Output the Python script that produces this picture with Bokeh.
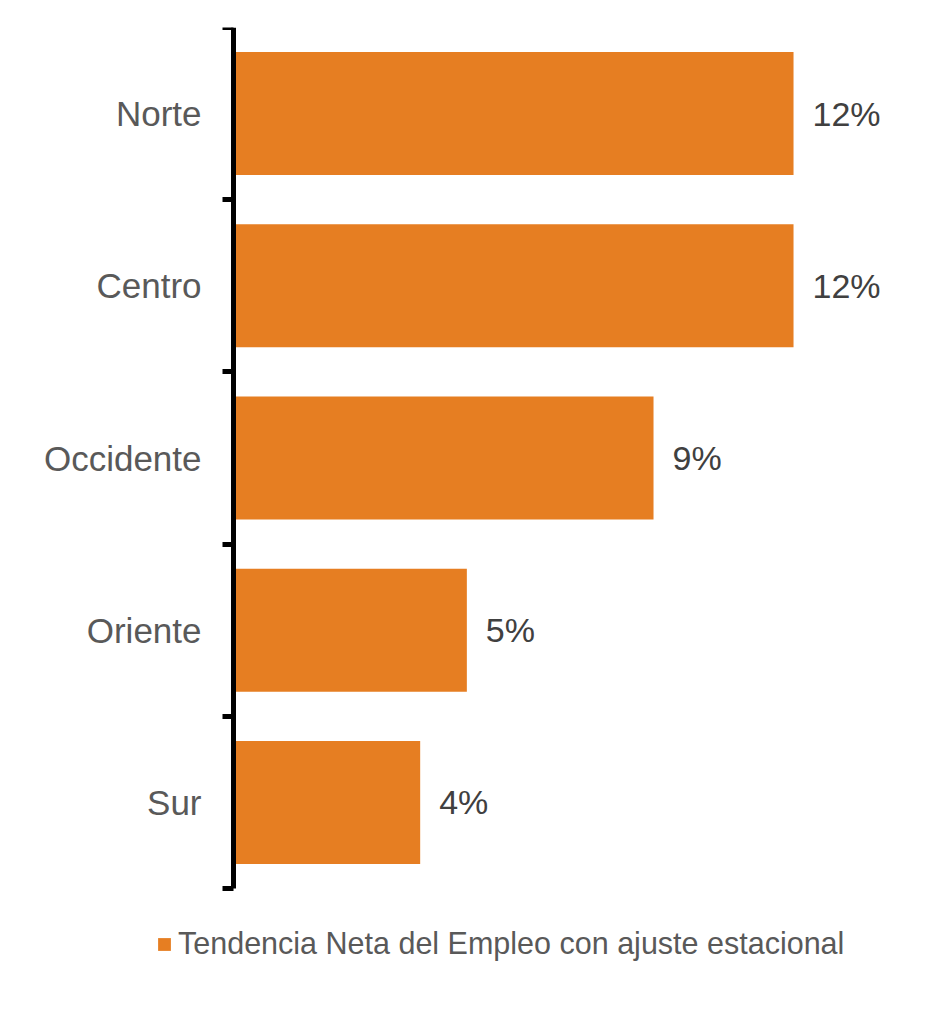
from bokeh.plotting import figure
from bokeh.models import ColumnDataSource, FixedTicker, Legend, LegendItem, Range1d
from bokeh.core.properties import value
from bokeh.embed import file_html
from bokeh.resources import INLINE

categories = ["Sur", "Oriente", "Occidente", "Centro", "Norte"]
values = [4, 5, 9, 12, 12]
value_labels = ["4%", "5%", "9%", "12%", "12%"]
legend_label = "Tendencia Neta del Empleo con ajuste estacional"

BAR = "#E67E22"
FONT = "Liberation Sans"

ypos = [i + 0.5 for i in range(len(categories))]
src = ColumnDataSource(dict(y=ypos, v=values, lab=value_labels, cat=categories))

n = len(categories)
p = figure(width=913, height=1000, output_backend="svg", toolbar_location=None,
           x_range=Range1d(-4.993, 14.228), y_range=Range1d(-0.6504, n),
           min_border_left=0, min_border_right=16, min_border_top=27,
           min_border_bottom=0)
p.outline_line_color = None
p.xgrid.visible = False
p.ygrid.visible = False
p.xaxis.visible = False

bars = p.hbar(y="y", right="v", left=0, height=0.714, source=src,
              fill_color=BAR, line_color=None)
p.text(x="v", y="y", text="lab", source=src, x_offset=19,
       text_align="left", text_baseline="middle",
       text_font=value(FONT), text_font_size="34px", text_color="#404040")

ax = p.yaxis[0]
ax.fixed_location = 0
ax.bounds = (0, n)
ax.ticker = FixedTicker(ticks=ypos, minor_ticks=list(range(n + 1)))
ax.major_label_overrides = {y: c for y, c in zip(ypos, categories)}
ax.major_tick_out = 0
ax.major_tick_in = 0
ax.minor_tick_out = 11
ax.minor_tick_in = 0
ax.minor_tick_line_width = 5
ax.minor_tick_line_color = "black"
ax.axis_line_width = 5
ax.axis_line_color = "black"
ax.major_label_standoff = 21
ax.major_label_text_font = FONT
ax.major_label_text_font_size = "35px"
ax.major_label_text_color = "#595959"

legend = Legend(items=[LegendItem(label=legend_label, renderers=[bars])],
                location=(156, 39), orientation="horizontal",
                glyph_width=16, glyph_height=16, label_standoff=6,
                label_text_font=FONT, label_text_font_size="30.5px",
                label_text_color="#595959", padding=0, margin=0,
                border_line_alpha=0, background_fill_alpha=0)
p.add_layout(legend, "center")

open("out.html", "w").write(file_html(p, INLINE))
